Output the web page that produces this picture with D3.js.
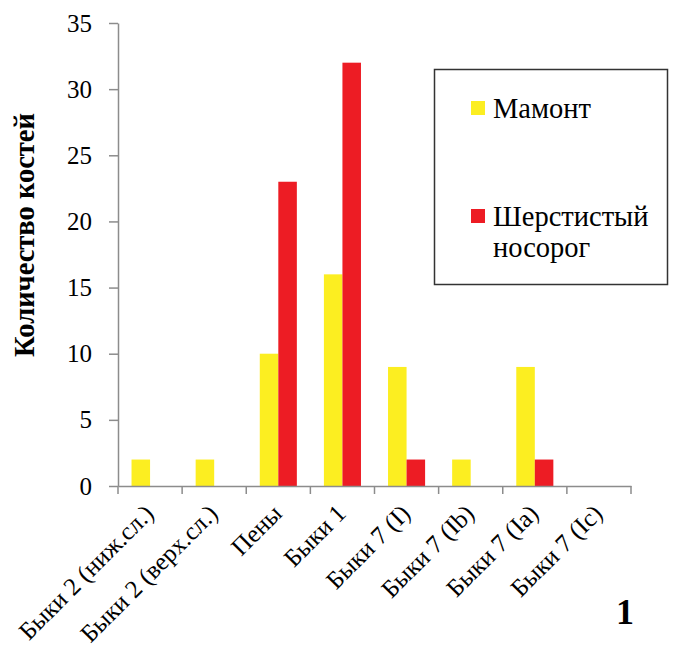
<!DOCTYPE html>
<html>
<head>
<meta charset="utf-8">
<script src="https://cdn.jsdelivr.net/npm/d3@7"></script>
<style>
  body { margin: 0; background: #fff; }
</style>
</head>
<body>
<svg></svg>
<script>
let width = 676;
let height = 649;
let serifFont = "'Liberation Serif', 'Times New Roman', 'DejaVu Serif', serif";

let categories = ["Быки 2 (ниж.сл.)", "Быки 2 (верх.сл.)", "Пены", "Быки 1",
                  "Быки 7 (I)", "Быки 7 (Ib)", "Быки 7 (Ia)", "Быки 7 (Ic)"];
let series = ["Мамонт", "Шерстистый носорог"];
let mammoth = [2, 2, 10, 16, 9, 2, 9, 0];
let rhino = [0, 0, 23, 32, 2, 0, 2, 0];
let yTicks = [0, 5, 10, 15, 20, 25, 30, 35];
let colors = ["#fcee21", "#ed1c24"];

let data = categories.map((c, i) => ({ cat: c, values: [mammoth[i], rhino[i]] }));

let plotLeft = 118, plotRight = 631, plotTop = 23, plotBottom = 486;

let xScale = d3.scaleBand()
                .domain(categories)
                .range([plotLeft, plotRight])
                .paddingInner(0)
                .paddingOuter(0)

let innerScale = d3.scaleBand()
                .domain(series)
                .range([0, xScale.bandwidth()])
                .paddingInner(0)
                .paddingOuter(0.73)

let yScale = d3.scaleLinear()
                .domain([0, 35])
                .range([plotBottom, plotTop])

let svg = d3.select("svg")
            .attr("width", width)
            .attr("height", height)

// bars
svg.append("g")
    .selectAll("g")
    .data(data)
    .enter()
    .append("g")
    .attr("transform", d => "translate(" + xScale(d.cat) + ",0)")
    .selectAll("rect")
    .data(d => d.values.map((v, j) => ({ s: series[j], v: v, j: j })))
    .enter()
    .append("rect")
    .attr("x", d => innerScale(d.s))
    .attr("width", innerScale.bandwidth())
    .attr("y", d => yScale(d.v))
    .attr("height", d => plotBottom - yScale(d.v))
    .attr("fill", d => colors[d.j])

// y axis
let yAxis = d3.axisLeft(yScale)
                .tickValues(yTicks)
                .tickSize(9)
                .tickPadding(17)
                .tickSizeOuter(0)

let yg = svg.append("g")
    .attr("transform", "translate(" + plotLeft + ",0)")
    .call(yAxis)
yg.select(".domain").attr("stroke", "#8c8c8c").attr("stroke-width", 1.5)
yg.selectAll(".tick line").attr("stroke", "#8c8c8c").attr("stroke-width", 1.5)
yg.selectAll(".tick text")
    .style("font-family", serifFont)
    .style("font-size", "25px")
    .attr("fill", "#000")

// x axis
let xAxis = d3.axisBottom(xScale)
                .tickSize(0)
                .tickFormat("")
                .tickSizeOuter(0)

let xg = svg.append("g")
    .attr("transform", "translate(0," + plotBottom + ")")
    .call(xAxis)
xg.select(".domain").attr("stroke", "#8c8c8c").attr("stroke-width", 1.5)

// tick marks at band edges
let edges = categories.map(c => xScale(c)).concat([plotRight])
xg.selectAll("line.edge")
    .data(edges)
    .enter()
    .append("line")
    .attr("class", "edge")
    .attr("x1", d => d)
    .attr("x2", d => d)
    .attr("y1", 0)
    .attr("y2", 8)
    .attr("stroke", "#8c8c8c")
    .attr("stroke-width", 1.5)

// rotated category labels
svg.append("g")
    .selectAll("text")
    .data(categories)
    .enter()
    .append("text")
    .attr("transform", d => "translate(" + (xScale(d) + xScale.bandwidth() / 2 + 5) + "," + (plotBottom + 29) + ") rotate(-45)")
    .attr("text-anchor", "end")
    .style("font-family", serifFont)
    .style("font-size", "25px")
    .attr("fill", "#000")
    .text(d => d)

// y title
svg.append("text")
    .attr("transform", "translate(34,235) rotate(-90)")
    .attr("text-anchor", "middle")
    .style("font-family", serifFont)
    .style("font-size", "28.5px")
    .style("font-weight", "bold")
    .text("Количество костей")

// legend
let legend = svg.append("g")
legend.append("rect")
    .attr("x", 434.5)
    .attr("y", 69.5)
    .attr("width", 233)
    .attr("height", 215)
    .attr("fill", "none")
    .attr("stroke", "#333")
    .attr("stroke-width", 1.5)

let legendRows = [
    { lines: [series[0]], y: 118 },
    { lines: ["Шерстистый", "носорог"], y: 226 }
]
legendRows.forEach((r, i) => {
    legend.append("rect")
        .attr("x", 471)
        .attr("y", r.y - 17)
        .attr("width", 14)
        .attr("height", 14)
        .attr("fill", colors[i])
    let t = legend.append("text")
        .attr("x", 493)
        .attr("y", r.y)
        .style("font-family", serifFont)
        .style("font-size", "28.5px")
        .attr("fill", "#000")
    r.lines.forEach((l, k) => {
        t.append("tspan")
            .attr("x", 493)
            .attr("dy", k === 0 ? 0 : 31)
            .text(l)
    })
})

// panel number
svg.append("text")
    .attr("x", 634)
    .attr("y", 624)
    .attr("text-anchor", "end")
    .style("font-family", serifFont)
    .style("font-size", "36px")
    .style("font-weight", "bold")
    .text("1")
</script>
</body>
</html>
